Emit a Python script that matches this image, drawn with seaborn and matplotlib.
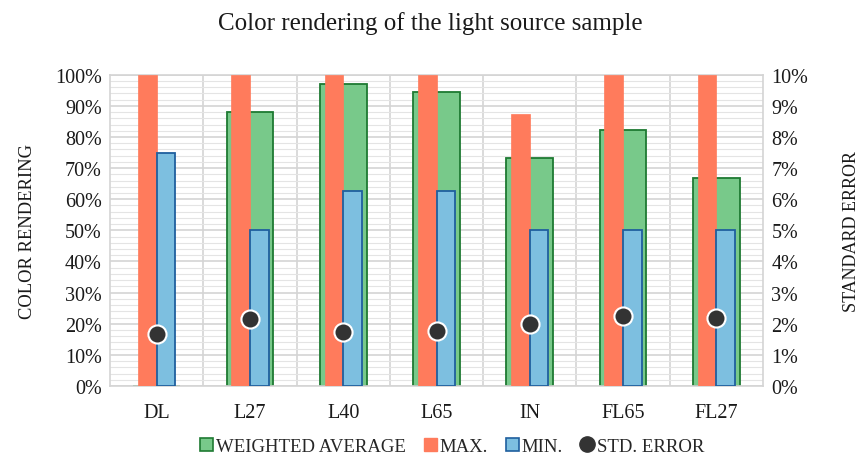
import numpy as np
import pandas as pd
import matplotlib
matplotlib.use("Agg")
import matplotlib.pyplot as plt
from matplotlib.ticker import MultipleLocator, PercentFormatter, FixedLocator
from matplotlib.lines import Line2D
from matplotlib.patches import Patch
import seaborn as sns

categories = ["DL", "L27", "L40", "L65", "IN", "FL65", "FL27"]
weighted_avg = [0.0, 87.9, 97.1, 94.3, 73.4, 82.1, 66.7]
max_vals = [100, 100, 100, 100, 87.5, 100, 100]
min_vals = [75, 50, 62.5, 62.5, 50, 50, 50]
std_error = [1.66, 2.16, 1.72, 1.76, 2.0, 2.25, 2.19]

sns.set_theme(style="white")
plt.rcParams["font.family"] = ["Liberation Serif", "DejaVu Serif"]

GREEN, GREEN_E = "#78C98A", "#1E7A32"
RED = "#FF7B5C"
BLUE, BLUE_E = "#7DBFE0", "#1F5F9E"
TXT = "#1A1A1A"

fig = plt.figure(figsize=(8.61, 4.60), dpi=100)
ax = fig.add_axes([110/861, 1-387/460, (763-110)/861, (387-75.7)/460])

sns.barplot(x=categories, y=weighted_avg, color=GREEN, width=0.5,
            edgecolor=GREEN_E, linewidth=1.3, saturation=1, ax=ax, zorder=2)

df = pd.DataFrame({
    "cat": categories * 2,
    "val": max_vals + min_vals,
    "series": ["MAX."] * len(categories) + ["MIN."] * len(categories),
})
sns.barplot(data=df, x="cat", y="val", hue="series", hue_order=["MAX.", "MIN."],
            palette={"MAX.": RED, "MIN.": BLUE}, width=0.4, dodge=True,
            saturation=1, ax=ax, legend=False, zorder=3)
n = len(categories)
for i, p in enumerate(ax.patches[n:]):
    if i < n:
        p.set_edgecolor(RED)
        p.set_linewidth(0.5)
    else:
        p.set_edgecolor(BLUE_E)
        p.set_linewidth(1.3)

ax.set_xlim(-0.5, n - 0.5)
ax.set_ylim(0, 100)
ax.yaxis.set_major_locator(MultipleLocator(10))
ax.yaxis.set_minor_locator(MultipleLocator(2))
ax.yaxis.set_major_formatter(PercentFormatter(100, decimals=0))
ax.xaxis.set_minor_locator(FixedLocator(np.arange(0.5, n - 0.5, 1)))
ax.grid(which="major", axis="y", color="#D4D4D4", linewidth=1.2, zorder=0)
ax.grid(which="minor", axis="y", color="#E4E4E4", linewidth=0.8, zorder=0)
ax.grid(which="minor", axis="x", color="#D4D4D4", linewidth=1.2, zorder=0)
ax.set_axisbelow(True)
for s in ax.spines.values():
    s.set_color("#D4D4D4")
    s.set_linewidth(1.2)
ax.tick_params(axis="both", which="both", length=0, labelsize=14.5, colors=TXT)
ax.tick_params(axis="y", pad=6)
ax.tick_params(axis="x", pad=12)
ax.set_xlabel("")
ax.set_ylabel("COLOR RENDERING", fontsize=13.3, color=TXT, labelpad=13.5)

ax2 = ax.twinx()
sns.scatterplot(x=np.arange(n), y=std_error, ax=ax2, s=170, color="#333333",
                edgecolor="white", linewidth=1.5, zorder=5, legend=False)
ax2.set_ylim(0, 10)
ax2.yaxis.set_major_locator(MultipleLocator(1))
ax2.yaxis.set_major_formatter(plt.FuncFormatter(lambda v, p: f"{v:.0f}%"))
ax2.tick_params(axis="both", which="both", length=0, labelsize=14.5, colors=TXT)
ax2.tick_params(axis="y", pad=6)
for s in ax2.spines.values():
    s.set_visible(False)
ax2.grid(False)
ax2.set_ylabel("STANDARD ERROR", fontsize=13, color=TXT, labelpad=25, rotation=90)

fig.suptitle("Color rendering of the light source sample", y=0.974, fontsize=18, color=TXT)

handles = [
    Patch(facecolor=GREEN, edgecolor=GREEN_E, linewidth=1.2),
    Patch(facecolor=RED, edgecolor=RED),
    Patch(facecolor=BLUE, edgecolor=BLUE_E, linewidth=1.2),
    Line2D([], [], marker="o", linestyle="", markersize=11, color="#333333"),
]
fig.legend(handles, ["WEIGHTED AVERAGE", "MAX.", "MIN.", "STD. ERROR"], loc="lower center",
           bbox_to_anchor=(0.525, -0.028), ncol=4, frameon=False, fontsize=13.5,
           handlelength=0.7, handleheight=0.7, handletextpad=0.15, columnspacing=0.95)

fig.savefig("out.png", dpi=100)
